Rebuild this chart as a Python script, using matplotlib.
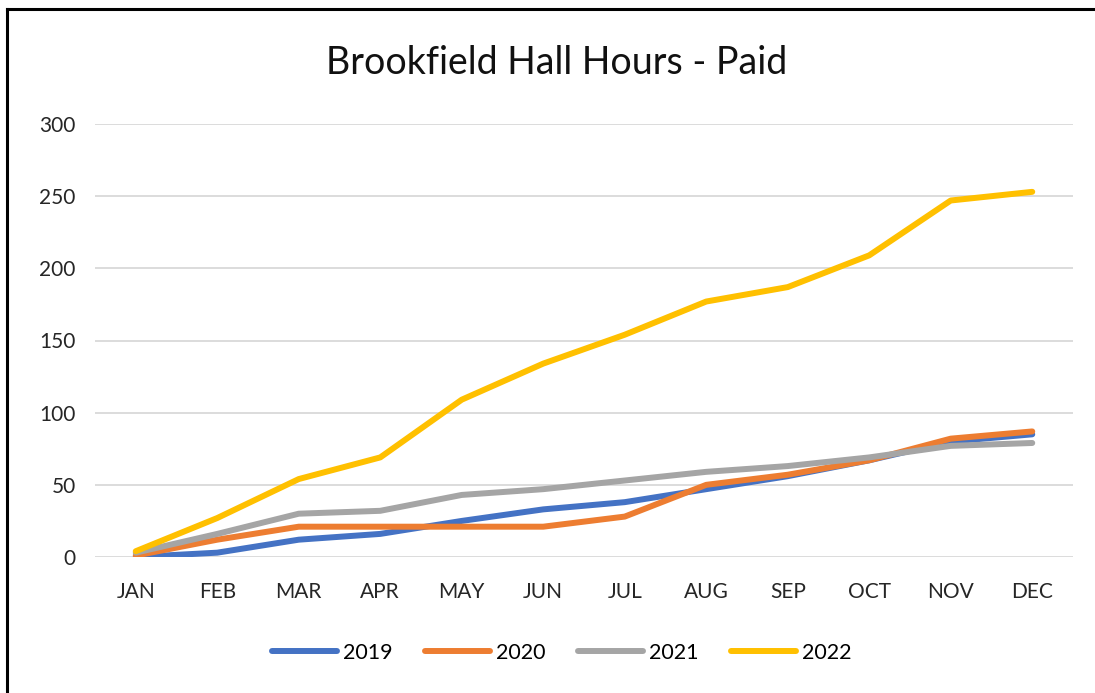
import matplotlib
matplotlib.use('Agg')
import matplotlib.pyplot as plt
from matplotlib.lines import Line2D

months = ['JAN', 'FEB', 'MAR', 'APR', 'MAY', 'JUN', 'JUL', 'AUG', 'SEP', 'OCT', 'NOV', 'DEC']
years = ['2019', '2020', '2021', '2022']
hours_2019 = [0, 3, 12, 16, 25, 33, 38, 47, 56, 67, 80, 85]
hours_2020 = [1, 12, 21, 21, 21, 21, 28, 50, 57, 67, 82, 87]
hours_2021 = [3, 16, 30, 32, 43, 47, 53, 59, 63, 69, 77, 79]
hours_2022 = [4, 27, 54, 69, 109, 134, 154, 177, 187, 209, 247, 253]
colors = ['#4472C4', '#ED7D31', '#A5A5A5', '#FFC000']

plt.rcParams['font.family'] = ['Lato', 'DejaVu Sans']

fig = plt.figure(figsize=(10.95, 6.93), dpi=100)
ax = fig.add_axes([95 / 1095, 1 - 557 / 693, (1073 - 95) / 1095, (557 - 124) / 693])

x = range(len(months))
for vals, c, lab in zip([hours_2019, hours_2020, hours_2021, hours_2022], colors, years):
    ax.plot(x, vals, color=c, lw=4.3, solid_capstyle='round', solid_joinstyle='round',
            label=lab, zorder=3)

ax.set_xlim(-0.5, len(months) - 0.5)
ax.set_ylim(0, 300)
ax.set_yticks(range(0, 301, 50))
ax.set_xticks(list(x))
ax.set_xticklabels(months)
ax.grid(axis='y', color='#D9D9D9', lw=1.3)
ax.set_axisbelow(True)
for s in ax.spines.values():
    s.set_visible(False)
ax.tick_params(length=0, labelsize=15, colors='#262626')
ax.tick_params(axis='y', pad=14)
ax.tick_params(axis='x', pad=18)

fig.text(557 / 1095, 1 - 63 / 693, 'Brookfield Hall Hours - Paid', ha='center', va='center',
         fontsize=27, color='#111111')

handles = [Line2D([], [], color=c, lw=4.3, solid_capstyle='round') for c in colors]
fig.legend(handles, years, loc='center', bbox_to_anchor=(562 / 1095, 1 - 653 / 693),
           ncol=4, frameon=False, fontsize=15.5, handlelength=3.0, handletextpad=0.3,
           columnspacing=1.5)

# frame of the screenshot (top and left edges only)
fig.add_artist(Line2D([7 / 1095, 7 / 1095], [0, 1 - 9 / 693], color='black', lw=2.2,
                      transform=fig.transFigure))
fig.add_artist(Line2D([7 / 1095, 1], [1 - 9 / 693, 1 - 9 / 693], color='black', lw=2.2,
                      transform=fig.transFigure))

fig.savefig('out.png', dpi=100, facecolor='white')
